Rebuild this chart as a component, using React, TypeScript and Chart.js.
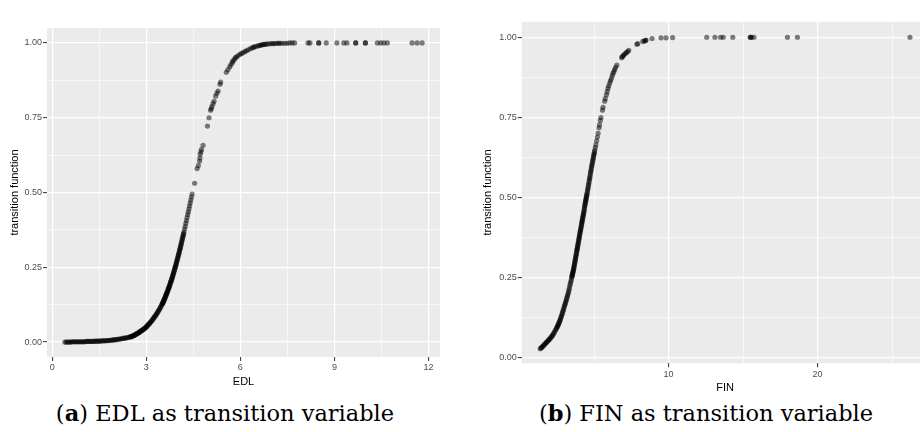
import React, { useEffect, useRef } from "react";
import { Chart, registerables } from "chart.js";

Chart.register(...registerables);

// ---------- Panel (a): EDL ----------
const edlX = [
  0.40, 0.44, 0.48, 0.52, 0.56, 0.60, 0.64, 0.68, 0.72, 0.76, 0.80, 0.84, 0.88, 0.92, 0.96, 1.00, 1.04, 1.08,
  1.12, 1.16, 1.20, 1.24, 1.28, 1.32, 1.36, 1.40, 1.44, 1.48, 1.52, 1.56, 1.60, 1.64, 1.68, 1.72, 1.76, 1.80,
  1.84, 1.88, 1.92, 1.96, 2.00, 2.04, 2.08, 2.12, 2.16, 2.20, 2.24, 2.28, 2.32, 2.36, 2.40, 2.44, 2.48,
  2.50, 2.52, 2.54, 2.56, 2.58, 2.60, 2.62, 2.64, 2.66, 2.68, 2.70, 2.72, 2.74, 2.76, 2.78, 2.80, 2.82, 2.84,
  2.86, 2.88, 2.90, 2.92, 2.94, 2.96, 2.98, 3.00, 3.02, 3.04, 3.06, 3.08, 3.10, 3.12, 3.14, 3.16, 3.18, 3.20,
  3.22, 3.24, 3.26, 3.28, 3.30, 3.32, 3.34, 3.36, 3.38, 3.40, 3.42, 3.44, 3.46, 3.48,
  3.50, 3.51, 3.52, 3.53, 3.54, 3.55, 3.56, 3.57, 3.58, 3.59, 3.60, 3.61, 3.62, 3.63, 3.64, 3.65, 3.66, 3.67,
  3.68, 3.69, 3.70, 3.71, 3.72, 3.73, 3.74, 3.75, 3.76, 3.77, 3.78, 3.79, 3.80, 3.81, 3.82, 3.83, 3.84, 3.85,
  3.86, 3.87, 3.88, 3.89, 3.90, 3.91, 3.92, 3.93, 3.94, 3.95, 3.96, 3.97, 3.98, 3.99, 4.00, 4.01, 4.02, 4.03,
  4.04, 4.05, 4.06, 4.07, 4.08, 4.09, 4.10, 4.11, 4.12, 4.13, 4.14, 4.15, 4.16, 4.17, 4.18, 4.19, 4.20,
  4.22, 4.24, 4.26, 4.28, 4.30, 4.32, 4.34, 4.36, 4.38, 4.40, 4.42, 4.44, 4.46,
  4.54, 4.62, 4.66, 4.70, 4.71, 4.72, 4.74, 4.76, 4.81, 4.95, 5.00, 5.05, 5.07, 5.09, 5.13, 5.16, 5.21, 5.25,
  5.29, 5.35, 5.37, 5.55, 5.60, 5.66, 5.70, 5.74, 5.76, 5.80, 5.84, 5.87, 5.92, 5.98, 6.03, 6.08, 6.14, 6.19,
  6.25, 6.32, 6.38, 6.42, 6.46, 6.52, 6.58, 6.62, 6.66, 6.70, 6.74, 6.78, 6.82, 6.88, 6.94, 7.00,
  7.05, 7.10, 7.17, 7.22, 7.26, 7.33, 7.41, 7.49, 7.57, 7.65, 7.73, 8.16, 8.22, 8.50, 8.50, 8.74, 9.08, 9.30,
  9.40, 9.68, 9.68, 9.99, 9.99, 10.37, 10.48, 10.58, 10.69, 11.48, 11.64, 11.80,
];
const edlY = [
  0.000, 0.000, 0.000, 0.000, 0.000, 0.000, 0.001, 0.001, 0.001, 0.001, 0.001, 0.001, 0.001, 0.001, 0.001, 0.001, 0.001, 0.002,
  0.002, 0.002, 0.002, 0.002, 0.002, 0.002, 0.003, 0.003, 0.003, 0.003, 0.003, 0.004, 0.004, 0.004, 0.004, 0.005, 0.005, 0.005,
  0.006, 0.006, 0.007, 0.007, 0.008, 0.008, 0.009, 0.010, 0.010, 0.011, 0.012, 0.013, 0.013, 0.014, 0.015, 0.016, 0.017,
  0.018, 0.018, 0.019, 0.020, 0.021, 0.022, 0.023, 0.024, 0.025, 0.027, 0.028, 0.029, 0.030, 0.032, 0.033, 0.035, 0.036, 0.038,
  0.039, 0.041, 0.042, 0.044, 0.045, 0.047, 0.049, 0.051, 0.053, 0.056, 0.058, 0.060, 0.062, 0.065, 0.067, 0.070, 0.072, 0.075,
  0.078, 0.081, 0.084, 0.087, 0.090, 0.093, 0.096, 0.100, 0.103, 0.107, 0.110, 0.114, 0.118, 0.122,
  0.126, 0.128, 0.130, 0.132, 0.135, 0.137, 0.139, 0.142, 0.144, 0.147, 0.149, 0.152, 0.155, 0.157, 0.160, 0.163, 0.165, 0.168,
  0.171, 0.174, 0.177, 0.180, 0.182, 0.185, 0.188, 0.191, 0.195, 0.198, 0.201, 0.204, 0.207, 0.211, 0.214, 0.217, 0.221, 0.224,
  0.228, 0.231, 0.235, 0.239, 0.242, 0.246, 0.250, 0.253, 0.257, 0.261, 0.265, 0.269, 0.273, 0.277, 0.281, 0.285, 0.289, 0.293,
  0.297, 0.301, 0.306, 0.310, 0.314, 0.318, 0.323, 0.327, 0.332, 0.336, 0.341, 0.345, 0.350, 0.354, 0.359, 0.363, 0.368,
  0.378, 0.387, 0.397, 0.406, 0.416, 0.426, 0.435, 0.445, 0.455, 0.465, 0.475, 0.485, 0.495,
  0.531, 0.580, 0.590, 0.605, 0.615, 0.628, 0.636, 0.644, 0.658, 0.722, 0.750, 0.775, 0.780, 0.787, 0.797, 0.805, 0.822, 0.832,
  0.839, 0.862, 0.869, 0.902, 0.910, 0.920, 0.927, 0.934, 0.939, 0.944, 0.950, 0.953, 0.957, 0.961, 0.965, 0.967, 0.971, 0.974,
  0.977, 0.981, 0.984, 0.986, 0.987, 0.989, 0.991, 0.992, 0.993, 0.994, 0.995, 0.995, 0.996, 0.997, 0.997, 0.998,
  0.998, 0.998, 0.999, 0.999, 0.999, 0.999, 0.999, 0.999, 1.000, 1.000, 1.000, 1.000, 1.000, 1.000, 1.000, 1.000, 1.000, 1.000,
  1.000, 1.000, 1.000, 1.000, 1.000, 1.000, 1.000, 1.000, 1.000, 1.000, 1.000, 1.000,
];

// ---------- Panel (b): FIN ----------
const finX = [
  1.38, 1.43, 1.48, 1.53, 1.58, 1.63, 1.68, 1.73, 1.78, 1.83, 1.88, 1.93, 1.98, 2.03, 2.08, 2.13, 2.18, 2.23,
  2.28, 2.33, 2.38, 2.43, 2.48,
  2.51, 2.54, 2.57, 2.60, 2.63, 2.66, 2.69, 2.72, 2.75, 2.78, 2.81, 2.84, 2.87, 2.90, 2.93, 2.96, 2.99, 3.02,
  3.05, 3.08, 3.11, 3.14, 3.17, 3.20, 3.23, 3.26, 3.29, 3.32, 3.35, 3.38, 3.41, 3.44, 3.47, 3.50,
  3.515, 3.53, 3.545, 3.56, 3.575, 3.59, 3.605, 3.62, 3.635, 3.65, 3.665, 3.68, 3.695, 3.71, 3.725, 3.74,
  3.755, 3.77, 3.785, 3.80, 3.815, 3.83, 3.845, 3.86, 3.875, 3.89, 3.905, 3.92, 3.935, 3.95, 3.965, 3.98,
  3.995, 4.01, 4.025, 4.04, 4.055, 4.07, 4.085, 4.10, 4.115, 4.13, 4.145, 4.16, 4.175, 4.19, 4.205, 4.22,
  4.235, 4.25, 4.265, 4.28, 4.295, 4.31, 4.325, 4.34, 4.355, 4.37, 4.385, 4.40, 4.415, 4.43, 4.445, 4.46,
  4.475, 4.49, 4.505, 4.52,
  4.54, 4.56, 4.58, 4.60, 4.62, 4.64, 4.66, 4.68, 4.70, 4.72, 4.74, 4.76, 4.78, 4.80, 4.82, 4.84, 4.86, 4.88,
  4.90, 4.92, 4.94, 4.96, 4.98, 5.00, 5.02, 5.04,
  5.08, 5.12, 5.17, 5.22, 5.27, 5.33, 5.36, 5.42, 5.46, 5.56, 5.60, 5.71, 5.75, 5.83, 5.88, 5.93, 5.98, 6.05,
  6.10, 6.16, 6.22, 6.27, 6.33, 6.38, 6.45, 6.53, 6.85, 6.89, 6.95, 7.00, 7.10, 7.16, 7.25, 7.33, 7.87, 7.93,
  8.27, 8.38, 8.45, 8.49, 8.89, 9.49, 9.83, 10.27, 12.56, 13.11, 13.49, 13.67, 14.31, 15.49, 15.49, 15.56,
  15.73, 17.98, 18.65, 26.20,
];
const finY = [
  0.027, 0.029, 0.031, 0.033, 0.036, 0.038, 0.041, 0.043, 0.046, 0.048, 0.051, 0.053, 0.056, 0.058, 0.061, 0.064, 0.067, 0.070,
  0.074, 0.078, 0.083, 0.087, 0.091,
  0.094, 0.097, 0.100, 0.103, 0.106, 0.110, 0.113, 0.117, 0.121, 0.125, 0.129, 0.134, 0.138, 0.143, 0.147, 0.152, 0.157, 0.162,
  0.166, 0.171, 0.175, 0.180, 0.185, 0.190, 0.195, 0.200, 0.206, 0.212, 0.218, 0.225, 0.231, 0.237, 0.243, 0.250,
  0.253, 0.256, 0.259, 0.262, 0.265, 0.268, 0.271, 0.275, 0.278, 0.282, 0.286, 0.290, 0.294, 0.298, 0.302, 0.306,
  0.310, 0.314, 0.318, 0.322, 0.326, 0.330, 0.334, 0.338, 0.341, 0.345, 0.349, 0.353, 0.357, 0.361, 0.365, 0.369,
  0.373, 0.377, 0.381, 0.385, 0.389, 0.393, 0.396, 0.400, 0.404, 0.408, 0.412, 0.416, 0.420, 0.424, 0.427, 0.431,
  0.435, 0.439, 0.442, 0.446, 0.450, 0.454, 0.458, 0.463, 0.467, 0.472, 0.476, 0.480, 0.484, 0.488, 0.491, 0.495,
  0.499, 0.503, 0.506, 0.510,
  0.515, 0.521, 0.526, 0.531, 0.537, 0.542, 0.548, 0.554, 0.559, 0.564, 0.570, 0.576, 0.581, 0.586, 0.592, 0.597, 0.602, 0.607,
  0.612, 0.617, 0.622, 0.627, 0.632, 0.636, 0.641, 0.646,
  0.655, 0.664, 0.676, 0.688, 0.700, 0.717, 0.726, 0.740, 0.749, 0.772, 0.781, 0.800, 0.808, 0.820, 0.830, 0.840, 0.848, 0.857,
  0.864, 0.871, 0.880, 0.887, 0.893, 0.899, 0.906, 0.913, 0.936, 0.939, 0.942, 0.945, 0.949, 0.952, 0.955, 0.959, 0.978, 0.980,
  0.987, 0.988, 0.990, 0.991, 0.996, 0.998, 0.998, 0.999, 1.000, 1.000, 1.000, 1.000, 1.000, 1.000, 1.000, 1.000,
  1.000, 1.000, 1.000, 1.000,
];

// tick labelling
const edlLabelEvery = 3; // labelled x ticks: 0, 3, 6, 9, 12
const finLabelEvery = 10; // labelled x ticks: 10, 20
const yLabelEvery = 0.25; // labelled y ticks: 0.00 ... 1.00

const yTitle = "transition function";

const isMajor = (v: number, every: number) => Math.abs(v / every - Math.round(v / every)) < 1e-6;

const bgPlugin = {
  id: "panelBg",
  beforeDraw(chart: any) {
    const { ctx, chartArea: a } = chart;
    ctx.save();
    ctx.fillStyle = "#EBEBEB";
    ctx.fillRect(a.left, a.top, a.right - a.left, a.bottom - a.top);
    ctx.restore();
  },
};

const SANS = "'Liberation Sans', Arial, Helvetica, sans-serif";

type PanelProps = {
  xs: number[];
  ys: number[];
  xTitle: string;
  xMin: number;
  xMax: number;
  xStep: number;
  xLabelEvery: number;
  yMin: number;
  yMax: number;
  left: number;
  width: number;
  height: number;
  padTop: number;
  padRight: number;
  yAxisWidth: number;
  xAxisHeight: number;
  yTitlePad: number;
  xTitlePad: number;
};

function Panel(p: PanelProps) {
  const ref = useRef<HTMLCanvasElement>(null);
  useEffect(() => {
    const canvas = ref.current;
    if (!canvas) return;
    const data = p.xs.map((x, i) => ({ x, y: p.ys[i] }));
    const gridFor = (every: number) => ({
      color: "#FFFFFF",
      lineWidth: (ctx: any) => (ctx.tick && isMajor(ctx.tick.value, every) ? 1.2 : 0.6),
      tickColor: (ctx: any) => (ctx.tick && isMajor(ctx.tick.value, every) ? "#333333" : "rgba(0,0,0,0)"),
      tickWidth: 1,
      tickLength: 4,
      drawTicks: true,
    });
    const chart = new Chart(canvas, {
      type: "scatter",
      data: {
        datasets: [
          {
            data,
            backgroundColor: "rgba(0,0,0,0.5)",
            borderWidth: 0,
            pointRadius: 2.6,
            pointHoverRadius: 2.6,
          },
        ],
      },
      options: {
        animation: false,
        responsive: false,
        maintainAspectRatio: false,
        devicePixelRatio: 1,
        layout: { padding: { left: 0, top: p.padTop, right: p.padRight, bottom: 0 } },
        plugins: { legend: { display: false }, tooltip: { enabled: false } },
        scales: {
          x: {
            type: "linear",
            min: p.xMin,
            max: p.xMax,
            afterFit: (s: any) => {
              s.height = p.xAxisHeight;
            },
            border: { display: false },
            grid: gridFor(p.xLabelEvery),
            ticks: {
              stepSize: p.xStep,
              includeBounds: false,
              autoSkip: false,
              maxRotation: 0,
              padding: 1.5,
              color: "#4D4D4D",
              font: { family: SANS, size: 9 },
              callback: (v: any) => (isMajor(Number(v), p.xLabelEvery) ? String(Math.round(Number(v))) : ""),
            },
            title: {
              display: true,
              text: p.xTitle,
              color: "#000000",
              font: { family: SANS, size: 11 },
              padding: { top: 0, bottom: p.xTitlePad },
            },
          },
          y: {
            type: "linear",
            min: p.yMin,
            max: p.yMax,
            afterFit: (s: any) => {
              s.width = p.yAxisWidth;
            },
            border: { display: false },
            grid: gridFor(yLabelEvery),
            ticks: {
              stepSize: 0.125,
              includeBounds: false,
              autoSkip: false,
              padding: 1,
              color: "#4D4D4D",
              font: { family: SANS, size: 9 },
              callback: (v: any) => (isMajor(Number(v), yLabelEvery) ? Number(v).toFixed(2) : ""),
            },
            title: {
              display: true,
              text: yTitle,
              color: "#000000",
              font: { family: SANS, size: 11 },
              padding: { top: p.yTitlePad, bottom: 0 },
            },
          },
        },
      } as any,
      plugins: [bgPlugin],
    });
    return () => chart.destroy();
  }, []);
  return (
    <canvas
      ref={ref}
      width={p.width}
      height={p.height}
      style={{ position: "absolute", left: p.left, top: 0, width: p.width, height: p.height }}
    />
  );
}

const captionStyle: React.CSSProperties = {
  position: "absolute",
  top: 400,
  width: 460,
  textAlign: "center",
  whiteSpace: "nowrap",
  fontFamily: "'DejaVu Serif', 'Liberation Serif', serif",
  fontSize: 22.5,
  lineHeight: "26px",
  color: "#000000",
};

export default function App() {
  return (
    <div
      style={{
        position: "fixed",
        left: 0,
        top: 0,
        width: 920,
        height: 432,
        overflow: "hidden",
        background: "#FFFFFF",
      }}
    >
      <Panel
        xs={edlX}
        ys={edlY}
        xTitle="EDL"
        xMin={-0.17}
        xMax={12.37}
        xStep={1.5}
        xLabelEvery={edlLabelEvery}
        yMin={-0.05}
        yMax={1.05}
        left={0}
        width={460}
        height={400}
        padTop={28}
        padRight={20}
        yAxisWidth={47}
        xAxisHeight={43}
        yTitlePad={8.4}
        xTitlePad={11.7}
      />
      <Panel
        xs={finX}
        ys={finY}
        xTitle="FIN"
        xMin={0.14}
        xMax={27.44}
        xStep={5}
        xLabelEvery={finLabelEvery}
        yMin={-0.0185}
        yMax={1.0485}
        left={460}
        width={471}
        height={400}
        padTop={21.7}
        padRight={0}
        yAxisWidth={61.7}
        xAxisHeight={36.7}
        yTitlePad={21.4}
        xTitlePad={5.1}
      />
      <div style={{ ...captionStyle, left: -5 }}>
        (<b>a</b>) EDL as transition variable
      </div>
      <div style={{ ...captionStyle, left: 476 }}>
        (<b>b</b>) FIN as transition variable
      </div>
    </div>
  );
}
